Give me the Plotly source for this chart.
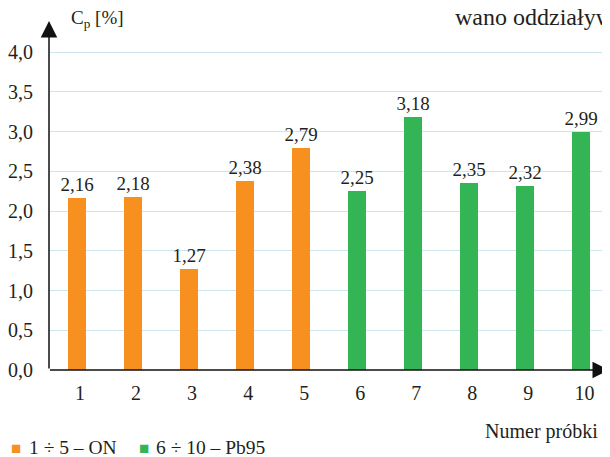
import plotly.graph_objects as go

samples_on = [1, 2, 3, 4, 5]
values_on = [2.16, 2.18, 1.27, 2.38, 2.79]
samples_pb = [6, 7, 8, 9, 10]
values_pb = [2.25, 3.18, 2.35, 2.32, 2.99]
y_ticks = [0, 0.5, 1.0, 1.5, 2.0, 2.5, 3.0, 3.5, 4.0]

ORANGE = "#f7901e"
GREEN = "#33b556"
INK = "#231f20"
FONT = "Liberation Serif, Times New Roman, serif"

fig = go.Figure()
for xs, ys, col, name in [(samples_on, values_on, ORANGE, "1 ÷ 5 – ON"),
                          (samples_pb, values_pb, GREEN, "6 ÷ 10 – Pb95")]:
    fig.add_trace(go.Bar(
        x=xs, y=ys, name=name, marker=dict(color=col, line=dict(width=0)),
        width=0.32, texttemplate="%{y:.2f}", textposition="outside",
        constraintext="none",
        textfont=dict(family=FONT, size=19, color=INK), cliponaxis=False,
        showlegend=False,
    ))

fig.update_layout(
    width=602, height=449,
    margin=dict(l=41, r=0, t=13, b=87),
    paper_bgcolor="white", plot_bgcolor="white",
    separators=", ",
    font=dict(family=FONT, size=19, color=INK),
    bargap=0,
    xaxis=dict(range=[0.5, 10.51], tickvals=list(range(1, 11)),
               ticks="", showgrid=False, zeroline=False, showline=False,
               ticklabelstandoff=9, ticklabelshift=3,
               tickfont=dict(family=FONT, size=20, color=INK)),
    yaxis=dict(range=[0, 4.39], tickvals=y_ticks, tickformat=".1f",
               ticks="", showgrid=True, gridcolor="#cfe5ec", gridwidth=1,
               zeroline=False, showline=False, ticklabelstandoff=15,
               tickfont=dict(family=FONT, size=20, color=INK)),
    annotations=[
        dict(xref="paper", yref="paper", x=0, y=1, ax=0, ay=349,
             showarrow=True, arrowhead=2, arrowsize=2.2, arrowwidth=1.5, arrowcolor="#111", text=""),
        dict(xref="paper", yref="paper", x=0.999, y=0, ax=-561, ay=0,
             showarrow=True, arrowhead=2, arrowsize=2.2, arrowwidth=1.5, arrowcolor="#111", text=""),
        dict(xref="paper", yref="paper", x=0.035, y=1.007, xanchor="left", yanchor="middle",
             text="C<sub>p</sub> [%]", showarrow=False, font=dict(family=FONT, size=19, color=INK)),
        dict(xref="paper", yref="paper", x=0.983, y=-0.175, xanchor="right", yanchor="middle",
             text="Numer próbki", showarrow=False, font=dict(family=FONT, size=20, color=INK)),
        dict(xref="paper", yref="paper", x=-0.072, y=-0.226, xanchor="left", yanchor="middle",
             text="■", showarrow=False, font=dict(family=FONT, size=17, color=ORANGE)),
        dict(xref="paper", yref="paper", x=-0.04, y=-0.223, xanchor="left", yanchor="middle",
             text="1 ÷ 5 – ON", showarrow=False, font=dict(family=FONT, size=19.5, color=INK)),
        dict(xref="paper", yref="paper", x=0.156, y=-0.226, xanchor="left", yanchor="middle",
             text="■", showarrow=False, font=dict(family=FONT, size=17, color=GREEN)),
        dict(xref="paper", yref="paper", x=0.188, y=-0.223, xanchor="left", yanchor="middle",
             text="6 ÷ 10 – Pb95", showarrow=False, font=dict(family=FONT, size=19.5, color=INK)),
        dict(xref="paper", yref="paper", x=0.72, y=1.012, xanchor="left", yanchor="middle",
             text="wano oddziaływ", showarrow=False, font=dict(family=FONT, size=24, color=INK)),
    ],
)

fig.write_html("out.html")
